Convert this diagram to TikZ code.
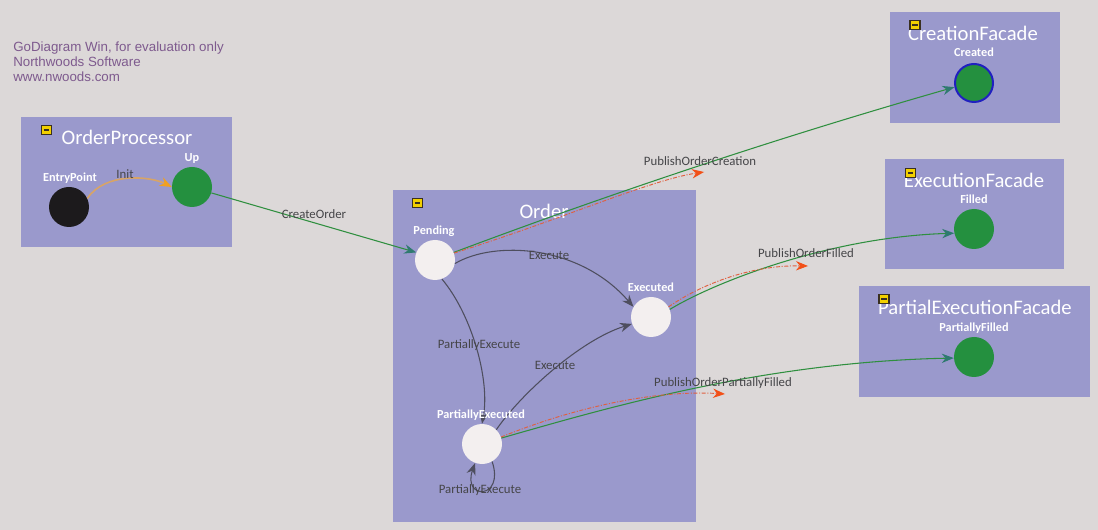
\documentclass[tikz,border=0pt]{standalone}
\usepackage{fontspec}
\setmainfont{Carlito}
\newfontfamily\wmfont{Liberation Sans}
\usetikzlibrary{arrows.meta}
\definecolor{bgc}{HTML}{DCD8D8}
\definecolor{boxc}{HTML}{9A99CC}
\definecolor{greenc}{HTML}{24903F}
\definecolor{whitec}{HTML}{F3EFEF}
\definecolor{blackc}{HTML}{1C1A1C}
\definecolor{edgec}{HTML}{4E4E5E}
\definecolor{lblc}{HTML}{454548}
\definecolor{greenln}{HTML}{2F8F3F}
\definecolor{tealc}{HTML}{2F7A70}
\definecolor{redln}{HTML}{E06040}
\definecolor{redarr}{HTML}{F25018}
\definecolor{initc}{HTML}{D8A466}
\definecolor{initarr}{HTML}{F2A020}
\definecolor{wmc}{HTML}{7E5A8E}
\definecolor{iconc}{HTML}{F2D000}
\definecolor{icond}{HTML}{3A3020}
\definecolor{bluec}{HTML}{2020C0}
\begin{document}
\begin{tikzpicture}[x=0.75pt,y=-0.75pt,
  boxnode/.style={rectangle, fill=boxc, inner sep=0},
  boxtitle/.style={text=white, font=\fontsize{15.5}{18}\selectfont, inner sep=0},
  collapseicon/.style={rectangle, fill=iconc, draw=icond, line width=0.8pt, minimum width=7.5pt, minimum height=6.8pt, inner sep=0,
    path picture={\draw[icond, line width=0.9pt] ([xshift=-2pt]path picture bounding box.center) -- ([xshift=2pt]path picture bounding box.center);}},
  stnode/.style={circle, minimum size=30pt, inner sep=0},
  lbl/.style={text=white, font=\fontsize{9.2}{11}\selectfont\bfseries, inner sep=0, text height=6.3pt, text depth=1.7pt},
  elbl/.style={text=lblc, font=\fontsize{9.6}{11}\selectfont, inner sep=0, text height=6.5pt, text depth=1.8pt},
  wm/.style={text=wmc, font=\wmfont\fontsize{10}{12}\selectfont, inner sep=0, anchor=base west},
  trans/.style={draw=edgec, line width=0.8pt, -{Stealth[length=9pt,width=7pt]}},
  pub/.style={draw=greenln, line width=0.8pt, -{Stealth[length=9pt,width=7pt,color=tealc]}},
  evt/.style={draw=redln, line width=0.7pt, dash pattern=on 3pt off 1.2pt on 0.8pt off 1.2pt, -{Stealth[length=9pt,width=7pt,color=redarr]}},
  initln/.style={draw=initc, line width=1.2pt, -{Stealth[length=9pt,width=7pt,color=initarr]}}
]
% background
\fill[bgc] (0,0) rectangle (1098,530);

% watermark
\node[wm] (wm1) at (13,52) {GoDiagram Win, for evaluation only};
\node[wm] (wm2) at (13,67) {Northwoods Software};
\node[wm] (wm3) at (13,82) {www.nwoods.com};

% group boxes
\node[boxnode, minimum width=158.25pt, minimum height=97.5pt] (opbox) at (126.5,182) {};
\node[boxnode, minimum width=227.25pt, minimum height=249pt] (orderbox) at (544.5,356) {};
\node[boxnode, minimum width=127.5pt, minimum height=83.25pt] (cfbox) at (975,67.5) {};
\node[boxnode, minimum width=134.25pt, minimum height=82.5pt] (efbox) at (974.5,214) {};
\node[boxnode, minimum width=173.25pt, minimum height=83.25pt] (pefbox) at (974.5,341.5) {};

% titles
\node[boxtitle] (optitle) at (127,137) {OrderProcessor};
\node[boxtitle] (ordertitle) at (544,211) {Order};
\node[boxtitle] (cftitle) at (973,33) {CreationFacade};
\node[boxtitle] (eftitle) at (974,180) {ExecutionFacade};
\node[boxtitle] (peftitle) at (975,307) {PartialExecutionFacade};

% icons
\node[collapseicon] (opicon) at (46.5,130) {};
\node[collapseicon] (ordericon) at (417.5,203) {};
\node[collapseicon] (cficon) at (915,25) {};
\node[collapseicon] (eficon) at (910.5,173) {};
\node[collapseicon] (peficon) at (884,299) {};

% states
\node[stnode, fill=blackc] (ep) at (69,207) {};
\node[stnode, fill=greenc] (up) at (192,187) {};
\node[stnode, fill=whitec] (pending) at (435,260) {};
\node[stnode, fill=whitec] (executed) at (651,317) {};
\node[stnode, fill=whitec] (pe) at (482,444) {};
\node[stnode, fill=greenc, draw=bluec, line width=1.5pt, minimum size=28.5pt] (created) at (974,83) {};
\node[stnode, fill=greenc] (filled) at (974,229) {};
\node[stnode, fill=greenc] (pf) at (974,357) {};

% free ends of the event arrows
\coordinate (evc) at (704,172);
\coordinate (evf) at (808,266);
\coordinate (evp) at (725,394);

% connectors
\draw[initln] (ep.25) .. controls (105,172) and (150,176) .. (up.180);
\draw[pub] (up.-17) -- (pending.158);
\draw[trans] (pending.-10) .. controls (495,240) and (580,245) .. (executed.150);
\draw[trans] (pending.-70) .. controls (472,315) and (490,380) .. (pe.north);
\draw[trans] (pe.45) .. controls (520,395) and (580,340) .. (executed.200);
\draw[trans] (pe.-60) .. controls (505,500) and (462,500) .. (pe.-110);
\draw[pub] (pending.22) .. controls (620,190) and (787,135) .. (created.192);
\draw[evt] (pending.20) .. controls (560,220) and (650,180) .. (evc);
\draw[pub] (executed.22) .. controls (715,282) and (830,237) .. (filled.192);
\draw[evt] (executed.30) .. controls (700,285) and (750,265) .. (evf);
\draw[pub] (pe.17) .. controls (600,410) and (760,362) .. (pf.183);
\draw[evt] (pe.20) .. controls (580,405) and (660,390) .. (evp);

% state labels
\node[lbl] (lep) at (70,178) {EntryPoint};
\node[lbl] (lup) at (192,158) {Up};
\node[lbl] (lpending) at (434,231) {Pending};
\node[lbl] (lexecuted) at (651,288) {Executed};
\node[lbl] (lpe) at (481,415) {PartiallyExecuted};
\node[lbl] (lcreated) at (974,53) {Created};
\node[lbl] (lfilled) at (974,200) {Filled};
\node[lbl] (lpf) at (974,328) {PartiallyFilled};

% connector labels
\node[elbl] (linit) at (125,175) {Init};
\node[elbl] (lcreate) at (314,215) {CreateOrder};
\node[elbl] (lexec1) at (549,256) {Execute};
\node[elbl] (lpexec1) at (479,345) {PartiallyExecute};
\node[elbl] (lexec2) at (555,366) {Execute};
\node[elbl] (lpexec2) at (480,490) {PartiallyExecute};
\node[elbl] (lpoc) at (700,162) {PublishOrderCreation};
\node[elbl] (lpof) at (806,254) {PublishOrderFilled};
\node[elbl] (lpopf) at (723,383) {PublishOrderPartiallyFilled};
\end{tikzpicture}
\end{document}
